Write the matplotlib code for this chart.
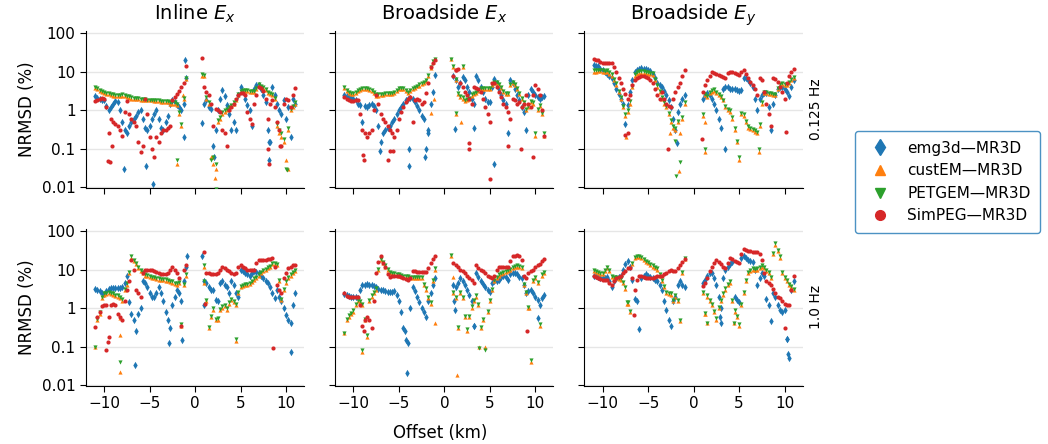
import matplotlib
matplotlib.use("Agg")
import matplotlib.pyplot as plt
from matplotlib.lines import Line2D
from matplotlib.ticker import FixedLocator, FixedFormatter, NullLocator

OFFSETS = [-11, -10.5, -10, -9.5, -9, -8.5, -8, -7.5, -7, -6.5, -6, -5.5, -5, -4.5,
           -4, -3.5, -3, -2.5, -2, -1.5, -1,
           1, 1.5, 2, 2.5, 3, 3.5, 4, 4.5, 5, 5.5, 6, 6.5, 7, 7.5, 8, 8.5, 9, 9.5,
           10, 10.5, 11]
OFFSETS_MID = [-10.75, -10.25, -9.75, -9.25, -8.75, -8.25, -7.75, -7.25, -6.75, -6.25,
               -5.75, -5.25, -4.75, -4.25, -3.75, -3.25, -2.75, -2.25, -1.75, -1.25,
               1.25, 1.75, 2.25, 2.75, 3.25, 3.75, 4.25, 4.75, 5.25, 5.75,
               6.25, 6.75, 7.25, 7.75, 8.25, 8.75, 9.25, 9.75, 10.25, 10.75]

SERIES = ["emg3d—MR3D", "custEM—MR3D", "PETGEM—MR3D", "SimPEG—MR3D"]
COLORS = ["C0", "C1", "C2", "C3"]
MARKERS = ["d", "^", "v", "o"]
COLUMNS = ["Inline $E_x$", "Broadside $E_x$", "Broadside $E_y$"]
FREQS = ["0.125 Hz", "1.0 Hz"]

# ---- 0.125 Hz, inline Ex ----
EMG_A = [2.3, 2.0, 1.9, 1.0, 1.5, 1.6, 0.5, 0.25, 0.5, 0.7, 1.0, 0.35, 0.4, 0.8, 0.6, 0.3, 0.7, 1.8, 1.4, 1.0, 7.0,
         1.5, 1.2, 0.12, 1.0, 3.3, 1.4, 0.3, 0.3, 4.0, 2.0, 1.0, 3.5, 4.5, 2.5, 0.3, 4.0, 1.5, 0.8, 0.6, 0.2, 1.5]
EMG_A_MID = [2.1, 1.9, 1.3, 1.2, 1.7, 1.0, 0.3, 0.4, 0.6, 0.9, 0.6, 0.3, 0.6, 1.0, 0.35, 0.5, 1.5, 1.6, 1.2, 1.5,
             1.9, 1.1, 0.3, 2.0, 2.4, 0.8, 0.5, 2.5, 3.0, 1.4, 0.4, 4.5, 3.5, 1.6, 0.15, 2.5, 1.0, 1.8, 1.2, 2.0]
CUST_A = [3.8, 3.2, 2.8, 2.6, 2.4, 2.3, 2.4, 2.2, 2.0, 2.0, 1.9, 1.9, 1.8, 1.7, 1.7, 1.6, 1.6, 1.5, 1.4, 0.4, 6.5,
          8.0, 1.5, 0.04, 0.5, 0.8, 1.0, 1.3, 1.8, 3.0, 3.2, 3.0, 3.0, 4.5, 3.8, 2.8, 2.5, 0.4, 0.2, 0.05, 1.0, 1.5]
CUST_A_MID = [3.5, 3.0, 2.7, 2.5, 2.4, 2.3, 2.3, 2.1, 2.0, 2.0, 1.9, 1.8, 1.8, 1.7, 1.6, 1.6, 1.5, 1.5, 0.8, 2.0,
              2.0, 0.06, 0.03, 0.6, 0.9, 1.1, 1.5, 2.5, 3.2, 3.1, 3.0, 3.5, 4.2, 3.3, 2.6, 2.0, 0.25, 0.15, 0.3, 1.2]
PET_A = [4.0, 3.4, 3.0, 2.8, 2.6, 2.5, 2.6, 2.4, 2.2, 2.1, 2.0, 2.0, 1.9, 1.8, 1.8, 1.7, 1.7, 1.6, 1.5, 0.45, 6.8,
         8.5, 1.6, 0.06, 0.55, 0.9, 1.1, 1.4, 1.9, 3.2, 3.4, 3.2, 3.2, 4.7, 4.0, 3.0, 2.6, 0.45, 0.25, 0.03, 1.1, 1.6]
PET_A_MID = [3.7, 3.2, 2.9, 2.7, 2.5, 2.5, 2.5, 2.3, 2.1, 2.1, 2.0, 1.9, 1.9, 1.8, 1.7, 1.7, 1.6, 1.6, 0.9, 2.1,
             2.2, 0.05, 0.04, 0.65, 1.0, 1.2, 1.6, 2.7, 3.4, 3.3, 3.2, 3.7, 4.4, 3.5, 2.8, 2.1, 0.3, 0.18, 0.35, 1.3]
SIM_A = [1.7, 2.0, 2.0, 0.25, 0.5, 0.4, 0.22, 1.7, 0.6, 0.4, 0.08, 2.0, 0.2, 0.06, 0.15, 0.3, 0.35, 1.8, 2.6, 4.0, 14,
         4.0, 2.5, 0.4, 1.0, 0.3, 0.12, 1.2, 2.0, 2.8, 2.5, 0.6, 1.5, 4.0, 3.2, 0.6, 1.8, 0.5, 0.12, 2.0, 1.2, 3.8]
SIM_A_MID = [1.9, 2.1, 1.2, 0.6, 0.45, 0.3, 0.9, 0.8, 0.5, 0.15, 0.12, 0.8, 0.1, 0.2, 0.25, 0.3, 0.4, 2.2, 3.2, 5.0,
             3.0, 1.5, 1.1, 0.9, 0.25, 1.0, 1.5, 2.5, 2.8, 0.9, 0.45, 2.5, 3.8, 2.0, 1.5, 1.2, 0.3, 1.5, 1.8, 2.5]
EXTRA_A = [(0, -7.8, 0.03), (0, -5.4, 0.035), (0, -4.6, 0.012), (0, -1.1, 20), (0, -1.2, 0.2),
           (0, 0.8, 0.47), (0, 2.1, 0.06), (0, 8.1, 0.05), (0, 8.1, 0.15),
           (1, -2.0, 0.04), (1, -1.3, 2.5), (1, 2.2, 0.017), (1, 1.9, 0.06), (1, 10.2, 0.03), (1, 0.8, 8.0),
           (2, -2.0, 0.05), (2, 2.3, 0.009), (2, 10.1, 0.028), (2, 0.8, 9.0),
           (3, -9.6, 0.048), (3, -9.3, 0.044), (3, -9.1, 0.12), (3, 0.8, 23), (3, 8.0, 0.1),
           (3, 8.1, 0.04), (3, 9.3, 0.12)]

# ---- 0.125 Hz, broadside Ex ----
EMG_B = [2.5, 2.2, 2.0, 1.5, 0.5, 1.2, 1.5, 1.0, 0.15, 0.3, 0.4, 0.6, 1.0, 1.5, 2.0, 2.0, 1.3, 0.7, 0.1, 1.5, 8.5,
         8.0, 4.0, 7.5, 4.0, 2.0, 8.0, 4.0, 2.0, 1.6, 6.5, 3.5, 1.8, 0.25, 5.0, 2.5, 1.2, 0.3, 3.5, 2.5, 2.0, 2.4]
EMG_B_MID = [2.3, 2.1, 1.8, 1.4, 1.3, 1.4, 1.3, 0.4, 0.25, 0.35, 0.5, 0.8, 1.2, 1.8, 2.1, 1.6, 1.0, 0.6, 0.3, 3.0,
             6.0, 5.0, 6.0, 3.0, 1.5, 6.0, 3.0, 1.6, 4.0, 5.0, 2.5, 1.5, 6.0, 3.5, 1.8, 0.9, 2.5, 3.0, 2.2, 2.2]
CUST_B = [3.8, 2.8, 2.6, 3.1, 3.5, 3.5, 3.1, 2.4, 2.5, 2.6, 2.6, 2.8, 3.5, 3.5, 2.8, 3.5, 4.2, 4.7, 5.7, 12.8, 21,
          13, 2.6, 2.0, 1.8, 2.4, 2.8, 3.5, 3.6, 3.6, 5.0, 4.5, 3.0, 2.6, 5.0, 3.5, 2.0, 1.0, 1.6, 0.22, 1.3, 0.22]
CUST_B_MID = [3.2, 2.6, 2.8, 3.3, 3.5, 3.4, 2.8, 2.4, 2.5, 2.6, 2.7, 3.1, 3.5, 3.2, 3.1, 3.8, 4.4, 5.2, 8.0, 18,
              6.0, 2.2, 1.7, 2.0, 2.6, 3.2, 3.6, 3.6, 4.5, 5.0, 3.8, 2.7, 4.5, 4.5, 2.6, 1.5, 1.2, 1.5, 1.0, 0.8]
PET_B = [4.0, 3.0, 2.8, 3.3, 3.7, 3.7, 3.3, 2.6, 2.7, 2.8, 2.8, 3.0, 3.7, 3.7, 3.0, 3.7, 4.4, 5.0, 6.0, 13.5, 22,
         14, 2.8, 2.2, 2.0, 2.6, 3.0, 3.7, 3.8, 3.8, 5.3, 4.7, 3.2, 2.8, 5.3, 3.7, 2.1, 1.1, 1.7, 0.25, 1.4, 0.25]
PET_B_MID = [3.4, 2.8, 3.0, 3.5, 3.7, 3.6, 3.0, 2.6, 2.7, 2.8, 2.9, 3.3, 3.7, 3.4, 3.3, 4.0, 4.7, 5.5, 8.5, 19,
             6.4, 2.4, 1.8, 2.1, 2.8, 3.4, 3.8, 3.8, 4.8, 5.3, 4.0, 2.9, 4.8, 4.8, 2.8, 1.6, 1.3, 1.6, 1.1, 0.85]
SIM_B = [2.2, 1.8, 1.7, 1.8, 0.3, 0.2, 0.3, 2.5, 0.8, 0.5, 0.3, 0.2, 0.6, 1.2, 2.0, 0.5, 2.0, 1.5, 2.8, 13, 20,
         8.0, 12, 4.0, 2.5, 1.5, 3.8, 3.0, 1.2, 0.5, 5.0, 3.0, 1.5, 0.9, 2.0, 1.5, 1.2, 2.5, 1.2, 4.5, 2.5, 0.22]
SIM_B_MID = [2.0, 1.7, 1.8, 0.8, 0.25, 0.25, 1.0, 1.5, 0.6, 0.4, 0.25, 0.3, 0.9, 1.6, 2.2, 1.8, 1.8, 1.6, 5.0, 17,
             11, 5.0, 3.0, 2.0, 4.0, 3.5, 2.0, 0.8, 5.2, 4.0, 2.2, 1.2, 0.6, 1.8, 1.6, 1.5, 1.5, 2.5, 3.5, 1.0]
EXTRA_B = [(0, -7.1, 0.09), (0, -3.9, 0.035), (0, -3.9, 0.1), (0, -2.1, 0.06), (0, -1.8, 0.26),
           (0, 1.2, 0.32), (0, 3.3, 0.35), (0, 5.5, 0.04),
           (1, 0.7, 21), (1, 1.3, 0.8), (1, 1.8, 0.5), (1, 2.0, 13), (1, -1.5, 0.87), (1, -1.1, 2.0),
           (2, 0.7, 22), (2, 2.0, 14), (2, 1.3, 0.85),
           (3, -8.9, 0.07), (3, -8.8, 0.05), (3, -6.0, 0.09), (3, -6.2, 0.05), (3, -5.6, 0.09),
           (3, 2.7, 0.14), (3, 2.7, 0.1), (3, 5.0, 0.016), (3, 7.0, 0.12), (3, 8.4, 0.1),
           (3, 9.7, 0.06), (3, 1.3, 11)]

# ---- 0.125 Hz, broadside Ey ----
EMG_C = [15, 14, 11, 9, 7, 3.5, 2.0, 0.45, 3.0, 10, 12, 12, 11.5, 9, 5, 4, 2.5, 1.2, 0.3, 1.5, 2.5,
         2.0, 2.8, 2.0, 1.0, 0.35, 4.0, 3.5, 3.5, 3.2, 7.0, 6.0, 4.0, 1.0, 2.5, 2.8, 0.3, 2.5, 4.0, 3.5, 2.4, 6.0]
EMG_C_MID = [14.5, 12, 10, 8, 5, 2.6, 1.5, 1.4, 6, 11.5, 12.5, 12, 10.5, 7, 4.5, 3.2, 1.8, 0.6, 0.9, 2.0,
             2.5, 2.5, 1.5, 0.6, 3.5, 4.0, 3.5, 3.3, 3.4, 7.0, 5.0, 2.0, 2.0, 2.8, 1.2, 1.5, 3.5, 4.0, 3.0, 4.0]
CUST_C = [10, 10.5, 10, 10, 8, 4.5, 2.0, 0.7, 1.5, 8, 9.5, 9.5, 9, 8.5, 4.0, 2.0, 1.2, 0.5, 0.3, 0.25, 1.5,
          0.7, 2.2, 3.0, 2.8, 2.2, 1.2, 0.9, 0.3, 0.05, 0.7, 0.35, 0.3, 0.25, 1.5, 2.8, 2.6, 2.5, 4.5, 4.5, 5.0, 7.0]
CUST_C_MID = [10.2, 10.3, 10, 9, 6, 3.0, 1.2, 0.9, 4.0, 9, 9.5, 9.3, 8.8, 6.0, 3.0, 1.5, 0.8, 0.35, 0.5, 0.6,
              2.5, 2.8, 3.2, 2.5, 1.8, 1.0, 0.6, 0.15, 0.8, 0.5, 0.32, 0.28, 0.4, 2.8, 2.7, 2.5, 3.5, 4.7, 4.5, 6.0]
PET_C = [11, 11.5, 11, 11, 9, 5, 2.2, 0.8, 1.7, 9, 10.5, 10.5, 10, 9.5, 4.5, 2.2, 1.3, 0.55, 0.35, 0.045, 1.6,
         0.8, 2.4, 3.3, 3.0, 2.4, 1.3, 1.0, 0.35, 0.06, 0.8, 0.4, 0.33, 0.28, 1.6, 3.0, 2.8, 2.7, 4.8, 4.8, 5.3, 7.5]
PET_C_MID = [11, 11, 10.8, 9.7, 6.5, 3.2, 1.3, 1.0, 4.3, 9.7, 10.3, 10, 9.5, 6.5, 3.2, 1.6, 0.86, 0.38, 0.54, 0.65,
             2.7, 3.0, 3.5, 2.7, 1.9, 1.1, 0.65, 0.16, 0.86, 0.54, 0.35, 0.3, 0.43, 3.0, 2.9, 2.7, 3.8, 5.1, 4.9, 6.5]
SIM_C = [21, 20, 17, 17, 17, 10, 5, 2.6, 2.5, 6.0, 7.5, 7.8, 7.0, 5.0, 2.5, 3.0, 1.5, 1.2, 3.0, 5.0, 11,
         3.0, 6.0, 10, 9.0, 8.0, 7.0, 10, 9.5, 8.5, 11, 7.0, 4.5, 2.5, 6.0, 1.5, 0.4, 6.5, 4.0, 2.0, 8.0, 12]
SIM_C_MID = [20.5, 18, 17, 17, 13, 7, 3.5, 2.0, 4.5, 7.0, 7.8, 7.5, 6.0, 3.5, 2.0, 2.0, 1.3, 2.0, 4.0, 8.0,
             4.5, 8.0, 9.5, 8.5, 7.5, 9.5, 10, 9.0, 10, 9.0, 5.5, 3.5, 7.0, 3.0, 0.8, 7.0, 5.5, 3.0, 5.0, 10]
EXTRA_C = [(0, 3.4, 0.1), (0, -1.8, 0.14),
           (1, -7.4, 0.2), (1, -1.6, 0.027), (1, 1.3, 0.08), (1, 1.2, 0.5), (1, 7.2, 0.08), (1, -2.6, 0.26),
           (2, -1.9, 0.02), (2, -2.0, 0.16), (2, 1.3, 0.1), (2, 7.2, 0.1),
           (3, -7.5, 0.23), (3, -7.2, 0.26), (3, -2.8, 0.1), (3, 0.9, 0.18), (3, 10.2, 0.28)]

# ---- 1.0 Hz, inline Ex ----
EMG_D = [3.2, 2.8, 2.3, 3.2, 3.3, 3.4, 3.5, 7.0, 0.7, 0.25, 1.0, 4.5, 2.5, 2.0, 3.5, 1.5, 0.5, 1.2, 3.0, 1.5, 12,
         5.0, 3.5, 3.0, 1.5, 5.0, 3.5, 5.0, 2.5, 10, 8, 7, 9, 8, 6, 4.5, 2.5, 3.0, 1.5, 0.65, 0.4, 2.5]
EMG_D_MID = [3.0, 2.5, 2.8, 3.3, 3.3, 3.4, 4.5, 1.4, 0.5, 0.7, 5.0, 3.5, 2.0, 2.5, 2.5, 0.8, 0.3, 2.0, 2.5, 5.0,
             4.5, 3.0, 1.6, 4.5, 4.0, 2.5, 4.0, 2.0, 9, 7.5, 8, 8.5, 7, 5, 3.5, 1.8, 2.0, 1.0, 0.5, 1.2]
CUST_D = [0.1, 0.7, 2.2, 2.4, 2.2, 2.0, 1.5, 4.0, 20, 14, 9, 7.0, 6.5, 6.0, 5.5, 5.3, 5.0, 4.5, 4.0, 0.35, 7.0,
          4.5, 0.3, 0.9, 0.5, 1.0, 0.9, 1.6, 1.2, 3.5, 4.0, 4.2, 5.5, 7, 9, 11, 14, 13, 1.6, 4.5, 7, 9]
CUST_D_MID = [0.5, 1.8, 2.3, 2.3, 2.1, 1.8, 3.0, 8.0, 17, 11, 8, 6.8, 6.2, 5.8, 5.4, 5.2, 4.8, 4.2, 4.5, 4.0,
              1.5, 0.6, 0.5, 0.9, 1.1, 1.3, 1.4, 2.5, 3.8, 4.0, 4.8, 6, 8, 10, 12, 14, 5, 3.0, 6, 8]
PET_D = [0.1, 0.8, 2.4, 2.6, 2.4, 2.2, 1.7, 4.5, 22, 15, 10, 7.5, 7, 6.5, 6, 5.8, 5.5, 5.0, 4.5, 0.38, 7.5,
         5.0, 0.32, 1.0, 0.55, 1.1, 1.0, 1.7, 1.3, 3.8, 4.3, 4.5, 6, 7.5, 10, 12, 15, 14, 1.7, 5, 7.5, 10]
PET_D_MID = [0.53, 1.9, 2.5, 2.5, 2.2, 1.9, 3.2, 8.6, 18, 12, 8.6, 7.3, 6.6, 6.2, 5.8, 5.6, 5.1, 4.5, 4.8, 4.3,
             1.6, 0.64, 0.53, 0.96, 1.2, 1.4, 1.5, 2.7, 4.1, 4.3, 5.1, 6.4, 8.6, 10.7, 12.8, 15, 5.3, 3.2, 6.4, 8.6]
SIM_D = [0.32, 0.8, 1.2, 0.6, 1.3, 0.7, 0.5, 3.0, 18, 3.0, 2.0, 10, 9.5, 9, 8, 7.5, 8, 12, 8, 0.35, 13,
         28, 8, 7.5, 8, 12, 10, 8, 8, 13, 11, 10, 10, 18, 18, 19, 20, 4.0, 2.5, 8, 12, 13]
SIM_D_MID = [0.6, 1.1, 1.2, 1.2, 1.2, 0.6, 1.5, 5.0, 10, 2.5, 8, 10, 9.5, 8.5, 7.8, 7.5, 10, 10, 6.0, 10,
             8, 7.5, 7.5, 10, 11, 9, 7.5, 12, 12, 10, 10, 15, 18, 18, 19, 12, 3.0, 6, 11, 13]
EXTRA_D = [(0, -6.6, 0.033), (0, -2.9, 0.12), (0, -1.4, 0.15), (0, -0.9, 23), (0, 0.8, 23),
           (0, 1.0, 1.2), (0, 10.5, 0.07),
           (1, -8.2, 0.2), (1, -8.2, 0.022), (1, -8.3, 0.55), (1, 1.0, 12), (1, 4.5, 0.14),
           (2, -8.2, 0.04), (2, 1.0, 13), (2, 4.5, 0.16),
           (3, -9.8, 0.08), (3, -9.6, 0.13), (3, -9.5, 0.18), (3, 1.1, 1.3), (3, 8.6, 0.09)]

# ---- 1.0 Hz, broadside Ex ----
EMG_E = [2.3, 2.1, 2.0, 1.8, 4.0, 4.2, 4.0, 3.5, 3.0, 2.8, 2.7, 2.8, 1.5, 0.3, 0.12, 3.5, 2.0, 1.0, 0.6, 2.5, 6.0,
         4.0, 4.5, 5.0, 3.0, 1.5, 8.0, 5.0, 3.5, 2.6, 5.0, 5.5, 7.0, 5.5, 8.0, 7.5, 6.0, 2.5, 3.0, 2.0, 1.2, 2.2]
EMG_E_MID = [2.2, 2.0, 1.9, 3.0, 4.1, 4.1, 3.8, 3.2, 2.9, 2.7, 2.7, 2.2, 0.8, 0.15, 1.0, 2.8, 1.4, 0.8, 1.5, 4.0,
             3.5, 6, 4, 2.2, 0.35, 6.5, 4.2, 3.0, 4.5, 5.2, 6.5, 6.5, 7.5, 8, 6.5, 4.0, 2.8, 2.5, 1.6, 1.8]
CUST_E = [0.22, 0.6, 0.8, 1.5, 1.2, 0.18, 2.0, 3.0, 18, 12, 8, 7.5, 7, 6.5, 6.5, 6, 6, 6, 3.0, 1.3, 10,
          2.4, 0.3, 1.8, 0.25, 1.0, 2.0, 0.3, 0.1, 1.5, 5, 7, 8, 9, 11, 12, 11, 2.5, 0.04, 6, 0.35, 8]
CUST_E_MID = [0.5, 0.7, 1.2, 1.4, 0.5, 1.5, 2.5, 10, 15, 10, 7.8, 7.2, 6.8, 6.5, 6.2, 6, 6, 4.0, 1.8, 5,
              1.8, 2.5, 0.6, 0.6, 1.5, 1.2, 0.5, 0.8, 3.0, 6.0, 7.5, 8.5, 10, 11.5, 12, 4.0, 1.0, 5, 4.5, 7]
PET_E = [0.23, 0.65, 0.9, 1.6, 1.3, 0.2, 2.2, 3.3, 19, 13, 8.5, 8, 7.5, 7, 7, 6.5, 6.5, 6.5, 3.3, 1.4, 11,
         2.6, 0.32, 1.9, 0.28, 1.1, 2.2, 0.32, 0.08, 1.6, 5.5, 7.5, 8.5, 9.5, 12, 13, 12, 2.7, 0.045, 6.5, 0.38, 8.5]
PET_E_MID = [0.53, 0.75, 1.3, 1.5, 0.53, 1.6, 2.7, 10.7, 16, 10.7, 8.3, 7.7, 7.3, 7.0, 6.6, 6.4, 6.4, 4.3, 1.9, 5.3,
             1.9, 2.7, 0.64, 0.64, 1.6, 1.3, 0.53, 0.86, 3.2, 6.4, 8.0, 9.1, 10.7, 12.3, 12.8, 4.3, 1.07, 5.3, 4.8, 7.5]
SIM_E = [2.5, 2.0, 1.9, 1.9, 0.35, 0.6, 0.3, 8, 22, 12, 6.5, 7, 7, 6, 5.5, 9, 8.5, 8.5, 8.5, 15, 22,
         15, 12, 9, 7, 5.5, 13, 10, 8, 6.5, 7, 12, 12, 12, 22, 24, 18, 6, 9, 12, 14, 19]
SIM_E_MID = [2.1, 2.0, 1.9, 1.2, 0.5, 0.5, 1.5, 16, 15, 7.5, 6.8, 7, 6.5, 5.8, 6.0, 9, 8.5, 8.5, 11, 19,
             13, 10, 8, 6, 4.5, 11, 9, 7, 6, 10, 12, 12, 17, 23, 22, 7, 8, 10, 13, 17]
EXTRA_E = [(0, -4.1, 0.02), (0, -4.3, 0.25), (0, 1.1, 1.5), (0, 1.2, 0.9), (0, 3.3, 0.35), (0, 10.3, 0.55),
           (1, -9.0, 0.07), (1, -1.0, 0.4), (1, 0.7, 23), (1, 0.9, 6.5), (1, 1.4, 0.018),
           (1, 3.8, 0.1), (1, 9.3, 1.0),
           (2, -9.0, 0.08), (2, 0.7, 24), (2, 3.8, 0.09),
           (3, 9.1, 0.25), (3, -8.8, 0.25)]

# ---- 1.0 Hz, broadside Ey ----
EMG_F = [7, 6.5, 6.0, 6.5, 3.5, 6, 7, 14, 12, 1.7, 0.28, 7, 7, 6, 5, 3, 0.9, 0.35, 2.0, 5, 3.5,
         4.5, 7, 8, 4, 1.0, 10, 14, 2.0, 1.4, 22, 18, 16, 4, 8, 1.7, 0.45, 2.0, 0.9, 0.9, 0.05, 5]
EMG_F_MID = [6.8, 6.2, 6.2, 5, 5, 6.5, 10, 17, 5.5, 1.5, 6, 7.5, 6.5, 5.5, 4, 1.5, 0.5, 1.5, 4, 4,
             5.5, 8, 6, 2.0, 6, 12, 16, 1.6, 20, 20, 17, 10, 6, 7, 1.2, 2.5, 1.2, 0.8, 0.16, 3]
CUST_F = [9, 8, 7.5, 11, 6.5, 6.0, 5.5, 3.2, 0.8, 20, 21, 18, 15, 12, 10, 5, 2.5, 2.2, 2.0, 0.45, 19,
          2.5, 2.0, 1.2, 0.5, 1.5, 3.0, 4.5, 0.8, 0.35, 2.5, 8, 10, 10, 12, 9, 6, 45, 20, 6, 4, 3]
CUST_F_MID = [8.5, 7.8, 9, 9, 6.2, 5.8, 4.5, 1.3, 14, 21, 20, 16, 13, 11, 7, 3.5, 2.3, 1.5, 1.5, 8,
              0.7, 1.5, 0.8, 1.0, 2.2, 4.0, 1.5, 0.6, 1.2, 5, 9, 10, 11, 11, 8, 25, 30, 8, 5, 3.5]
PET_F = [9.5, 8.5, 8, 12, 7, 6.5, 6, 3.5, 0.85, 21, 22, 19, 16, 13, 11, 5.5, 2.7, 2.4, 2.2, 0.5, 20,
         2.7, 2.2, 1.3, 0.55, 1.6, 3.3, 5, 0.9, 0.38, 2.7, 8.5, 11, 11, 13, 10, 6.5, 48, 22, 6.5, 4.3, 3.2]
PET_F_MID = [9.1, 8.3, 9.6, 9.6, 6.6, 6.2, 4.8, 1.4, 15, 22, 21, 17, 14, 12, 7.5, 3.7, 2.5, 1.6, 1.6, 8.6,
             0.75, 1.6, 0.86, 1.07, 2.4, 4.3, 1.6, 0.64, 1.3, 5.3, 9.6, 10.7, 11.8, 11.8, 8.6, 27, 32, 8.6, 5.3, 3.7]
SIM_F = [7, 6.0, 5.5, 5.5, 4.0, 6.0, 7.0, 9, 11, 3.0, 7, 6.5, 6, 6, 7, 7, 8, 10, 9, 13, 19,
         3.8, 6, 12, 18, 14, 11, 20, 17, 15, 35, 30, 29, 28, 18, 5, 4.0, 2.5, 1.8, 1.3, 1.2, 7]
SIM_F_MID = [6.5, 5.8, 5.5, 4.5, 5, 6.5, 8, 11, 6, 5.5, 7, 6.2, 6, 6.5, 7, 7.5, 9, 9, 11, 16,
             4.5, 9, 15, 16, 12, 15, 19, 16, 25, 32, 30, 28, 25, 8, 4.5, 3.2, 2.0, 1.5, 1.2, 3]
EXTRA_F = [(0, 2.9, 0.6), (0, 3.0, 0.4), (0, 10.3, 0.16), (0, 10.4, 0.065),
           (1, -7.3, 1.3), (1, 1.5, 0.4), (1, 1.3, 0.7), (1, 4.4, 0.4),
           (2, -7.3, 1.4), (2, 1.5, 0.42), (2, 4.4, 0.42),
           (3, 10.1, 0.3), (3, -6.6, 0.65)]

PANELS = [
    [([EMG_A, CUST_A, PET_A, SIM_A], [EMG_A_MID, CUST_A_MID, PET_A_MID, SIM_A_MID], EXTRA_A),
     ([EMG_B, CUST_B, PET_B, SIM_B], [EMG_B_MID, CUST_B_MID, PET_B_MID, SIM_B_MID], EXTRA_B),
     ([EMG_C, CUST_C, PET_C, SIM_C], [EMG_C_MID, CUST_C_MID, PET_C_MID, SIM_C_MID], EXTRA_C)],
    [([EMG_D, CUST_D, PET_D, SIM_D], [EMG_D_MID, CUST_D_MID, PET_D_MID, SIM_D_MID], EXTRA_D),
     ([EMG_E, CUST_E, PET_E, SIM_E], [EMG_E_MID, CUST_E_MID, PET_E_MID, SIM_E_MID], EXTRA_E),
     ([EMG_F, CUST_F, PET_F, SIM_F], [EMG_F_MID, CUST_F_MID, PET_F_MID, SIM_F_MID], EXTRA_F)],
]

plt.rcParams["font.family"] = "DejaVu Sans"

fig, axs = plt.subplots(2, 3, figsize=(10.48, 4.44), dpi=100, sharex=True, sharey=True)
fig.subplots_adjust(left=0.082, right=0.766, top=0.930, bottom=0.131,
                    wspace=0.142, hspace=0.26)

yticks = [0.01, 0.1, 1, 10, 100]
ylabels = ["0.01", "0.1", "1", "10", "100"]

for i in range(2):
    for j in range(3):
        ax = axs[i, j]
        vals, mids, extra = PANELS[i][j]
        for k in range(4):
            xs = OFFSETS + OFFSETS_MID + [e[1] for e in extra if e[0] == k]
            ys = vals[k] + mids[k] + [e[2] for e in extra if e[0] == k]
            ms = 14 if MARKERS[k] == "d" else 9
            ax.scatter(xs, ys, s=ms, marker=MARKERS[k], color=COLORS[k],
                       linewidths=0, zorder=2 + k)
        ax.set_yscale("log")
        ax.set_ylim(0.0095, 115)
        ax.set_xlim(-12, 12)
        ax.yaxis.set_major_locator(FixedLocator(yticks))
        ax.yaxis.set_major_formatter(FixedFormatter(ylabels))
        ax.yaxis.set_minor_locator(NullLocator())
        ax.set_xticks([-10, -5, 0, 5, 10])
        ax.grid(axis="y", color="0.9", linewidth=1.0, zorder=0)
        ax.set_axisbelow(True)
        for s in ["top", "right"]:
            ax.spines[s].set_visible(False)
        ax.tick_params(labelsize=11, length=4)
        if i == 0:
            ax.set_title(COLUMNS[j], fontsize=14, pad=8)
        if j == 0:
            ax.set_ylabel("NRMSD (%)", fontsize=12)
        if j == 2:
            ax.text(1.03, 0.5, FREQS[i], transform=ax.transAxes, rotation=90,
                    va="center", ha="left", fontsize=10)

fig.text(0.42, 0.025, "Offset (km)", ha="center", va="center", fontsize=12)

handles = [Line2D([], [], linestyle="none", marker=MARKERS[k], color=COLORS[k],
                  markersize=8 if k == 0 else 7) for k in range(4)]
leg = fig.legend(handles, SERIES, loc="center", bbox_to_anchor=(0.904, 0.59),
                 fontsize=11, frameon=True, handletextpad=0.8, borderpad=0.6)
leg.get_frame().set_edgecolor("C0")

fig.savefig("out.png", dpi=100)
